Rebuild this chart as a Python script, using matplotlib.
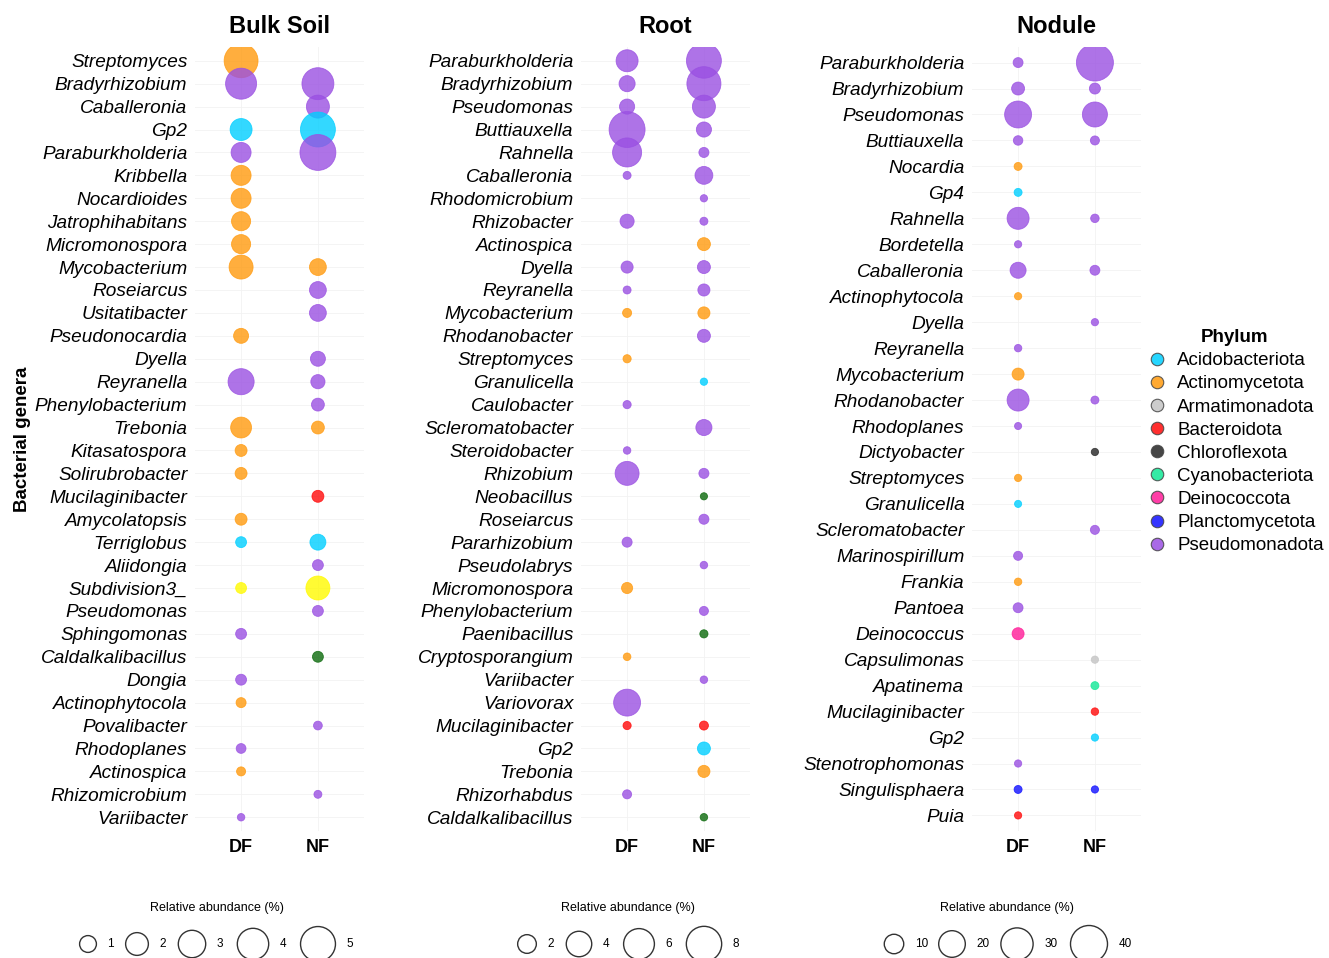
import numpy as np
import matplotlib.pyplot as plt
from matplotlib.lines import Line2D

plt.rcParams['font.family'] = ['Liberation Sans', 'DejaVu Sans']

# %% phylum colours
phylum_names = {
    'Aci': 'Acidobacteriota', 'Act': 'Actinomycetota', 'Arm': 'Armatimonadota',
    'Bac': 'Bacteroidota', 'Chl': 'Chloroflexota', 'Cya': 'Cyanobacteriota',
    'Dei': 'Deinococcota', 'Pla': 'Planctomycetota', 'Pse': 'Pseudomonadota',
    'Ver': 'Verrucomicrobiota', 'Bcl': 'Bacillota',
}
phylum_colors = {
    'Aci': '#00CFFF', 'Act': '#FF9A0E', 'Arm': '#C4C4C4', 'Bac': '#FF0A0A',
    'Chl': '#262626', 'Cya': '#10E896', 'Dei': '#FF1C98', 'Pla': '#1010FF',
    'Pse': '#9A50E2', 'Ver': '#FFFA00', 'Bcl': '#0C6A0C',
}
legend_phyla = ['Aci', 'Act', 'Arm', 'Bac', 'Chl', 'Cya', 'Dei', 'Pla', 'Pse']

nan = np.nan

# %% Bulk soil
bulk_genera = ['Streptomyces', 'Bradyrhizobium', 'Caballeronia', 'Gp2', 'Paraburkholderia',
               'Kribbella', 'Nocardioides', 'Jatrophihabitans', 'Micromonospora', 'Mycobacterium',
               'Roseiarcus', 'Usitatibacter', 'Pseudonocardia', 'Dyella', 'Reyranella',
               'Phenylobacterium', 'Trebonia', 'Kitasatospora', 'Solirubrobacter', 'Mucilaginibacter',
               'Amycolatopsis', 'Terriglobus', 'Aliidongia', 'Subdivision3_', 'Pseudomonas',
               'Sphingomonas', 'Caldalkalibacillus', 'Dongia', 'Actinophytocola', 'Povalibacter',
               'Rhodoplanes', 'Actinospica', 'Rhizomicrobium', 'Variibacter']
bulk_phylum = ['Act', 'Pse', 'Pse', 'Aci', 'Pse', 'Act', 'Act', 'Act', 'Act', 'Act',
               'Pse', 'Pse', 'Act', 'Pse', 'Pse', 'Pse', 'Act', 'Act', 'Act', 'Bac',
               'Act', 'Aci', 'Pse', 'Ver', 'Pse', 'Pse', 'Bcl', 'Pse', 'Act', 'Pse',
               'Pse', 'Act', 'Pse', 'Pse']
bulk_df = [4.7, 3.9, nan, 1.85, 1.5, 1.5, 1.5, 1.35, 1.35, 2.25,
           nan, nan, 0.75, nan, 2.7, nan, 1.65, 0.4, 0.4, nan,
           0.4, 0.3, nan, 0.3, nan, 0.3, nan, 0.3, 0.22, nan,
           0.2, 0.14, nan, 0.03]
bulk_nf = [nan, 4.15, 2.05, 5.0, 5.3, nan, nan, nan, nan, 1.0,
           1.0, 1.0, nan, 0.75, 0.65, 0.5, 0.5, nan, nan, 0.4,
           nan, 0.88, 0.3, 2.25, 0.3, nan, 0.3, nan, nan, 0.12,
           nan, nan, 0.06, nan]

# %% Root
root_genera = ['Paraburkholderia', 'Bradyrhizobium', 'Pseudomonas', 'Buttiauxella', 'Rahnella',
               'Caballeronia', 'Rhodomicrobium', 'Rhizobacter', 'Actinospica', 'Dyella',
               'Reyranella', 'Mycobacterium', 'Rhodanobacter', 'Streptomyces', 'Granulicella',
               'Caulobacter', 'Scleromatobacter', 'Steroidobacter', 'Rhizobium', 'Neobacillus',
               'Roseiarcus', 'Pararhizobium', 'Pseudolabrys', 'Micromonospora', 'Phenylobacterium',
               'Paenibacillus', 'Cryptosporangium', 'Variibacter', 'Variovorax', 'Mucilaginibacter',
               'Gp2', 'Trebonia', 'Rhizorhabdus', 'Caldalkalibacillus']
root_phylum = ['Pse', 'Pse', 'Pse', 'Pse', 'Pse', 'Pse', 'Pse', 'Pse', 'Act', 'Pse',
               'Pse', 'Act', 'Pse', 'Act', 'Aci', 'Pse', 'Pse', 'Pse', 'Pse', 'Bcl',
               'Pse', 'Pse', 'Pse', 'Act', 'Pse', 'Bcl', 'Act', 'Pse', 'Pse', 'Bac',
               'Aci', 'Act', 'Pse', 'Bcl']
root_df = [2.9, 1.4, 1.2, 8.3, 5.3, 0.1, nan, 1.0, nan, 0.65,
           0.1, 0.22, nan, 0.12, nan, 0.12, nan, 0.05, 3.5, nan,
           nan, 0.35, nan, 0.5, nan, nan, 0.06, nan, 4.5, 0.12,
           nan, nan, 0.22, nan]
root_nf = [7.8, 7.4, 3.2, 1.2, 0.35, 1.8, 0.03, 0.1, 0.8, 0.8,
           0.65, 0.65, 0.8, nan, 0.03, nan, 1.4, nan, 0.35, 0.02,
           0.35, nan, 0.05, nan, 0.22, 0.12, nan, 0.05, nan, 0.22,
           0.8, 0.65, nan, 0.05]

# %% Nodule
nod_genera = ['Paraburkholderia', 'Bradyrhizobium', 'Pseudomonas', 'Buttiauxella', 'Nocardia',
              'Gp4', 'Rahnella', 'Bordetella', 'Caballeronia', 'Actinophytocola',
              'Dyella', 'Reyranella', 'Mycobacterium', 'Rhodanobacter', 'Rhodoplanes',
              'Dictyobacter', 'Streptomyces', 'Granulicella', 'Scleromatobacter', 'Marinospirillum',
              'Frankia', 'Pantoea', 'Deinococcus', 'Capsulimonas', 'Apatinema',
              'Mucilaginibacter', 'Gp2', 'Stenotrophomonas', 'Singulisphaera', 'Puia']
nod_phylum = ['Pse', 'Pse', 'Pse', 'Pse', 'Act', 'Aci', 'Pse', 'Pse', 'Pse', 'Act',
              'Pse', 'Pse', 'Act', 'Pse', 'Pse', 'Chl', 'Act', 'Aci', 'Pse', 'Pse',
              'Act', 'Pse', 'Dei', 'Arm', 'Cya', 'Bac', 'Aci', 'Pse', 'Pla', 'Bac']
nod_df = [1.5, 3.6, 20.5, 1.25, 0.45, 0.45, 13.2, 0.12, 6.3, 0.12,
          nan, 0.2, 2.9, 13.2, 0.06, nan, 0.12, 0.06, nan, 1.0,
          0.2, 1.5, 2.9, nan, nan, nan, nan, 0.12, 0.45, 0.12]
nod_nf = [40.0, 2.2, 17.5, 1.0, nan, nan, 0.7, nan, 1.5, nan,
          0.12, nan, nan, 0.45, nan, 0.12, nan, nan, 1.0, nan,
          nan, nan, nan, 0.12, 0.45, 0.2, 0.12, nan, 0.12, nan]

# size scale per panel: diameter(px)^2 = 49 + k * abundance
bulk_k, root_k, nod_k = 234.0, 150.0, 33.0
bulk_breaks = [1, 2, 3, 4, 5]
root_breaks = [2, 4, 6, 8]
nod_breaks = [10, 20, 30, 40]

W, H = 1329, 958
fig = plt.figure(figsize=(W / 100, H / 100), dpi=100)


def px_axes(l, t, r, b):
    return fig.add_axes([l / W, 1 - b / H, (r - l) / W, (b - t) / H])


def marker_area(v, k):
    d = np.sqrt(49 + k * np.asarray(v, dtype=float))
    return (d * 0.72) ** 2


def draw_panel(ax, title, genera, phyla, df, nf, k):
    n = len(genera)
    y = np.arange(n)
    ax.set_xlim(-0.6, 1.6)
    ax.set_ylim(n - 1 + 0.6, -0.6)
    for yy in y:
        ax.axhline(yy, color='#f2f2f2', lw=0.6, zorder=0)
    for xx in (0, 1):
        ax.axvline(xx, color='#f2f2f2', lw=0.6, zorder=0)
    cols = [phylum_colors[p] for p in phyla]
    for xi, vals in enumerate((df, nf)):
        vals = np.asarray(vals, dtype=float)
        m = ~np.isnan(vals)
        c = [cols[i] for i in np.where(m)[0]]
        ax.scatter(np.full(m.sum(), xi), y[m], s=marker_area(vals[m], k),
                   c=c, alpha=0.8, edgecolors=c, linewidths=0.6, zorder=3)
    ax.set_xticks([0, 1])
    ax.set_xticklabels(['DF', 'NF'], fontsize=13, fontweight='bold')
    ax.set_yticks(y)
    ax.set_yticklabels(genera, fontsize=13.7, style='italic')
    ax.tick_params(length=0, pad=5.5)
    for s in ax.spines.values():
        s.set_visible(False)
    ax.set_title(title, fontsize=17, fontweight='bold', pad=10)


ax1 = px_axes(195, 47, 364, 831)
ax2 = px_axes(581, 47, 750, 831)
ax3 = px_axes(972, 47, 1141, 831)
draw_panel(ax1, 'Bulk Soil', bulk_genera, bulk_phylum, bulk_df, bulk_nf, bulk_k)
draw_panel(ax2, 'Root', root_genera, root_phylum, root_df, root_nf, root_k)
draw_panel(ax3, 'Nodule', nod_genera, nod_phylum, nod_df, nod_nf, nod_k)
ax1.set_ylabel('Bacterial genera', fontsize=13.5, fontweight='bold', labelpad=3)

# overlay in pixel coordinates for the legends
ov = fig.add_axes([0, 0, 1, 1])
ov.set_xlim(0, W)
ov.set_ylim(H, 0)
ov.axis('off')

# size legends under each panel
size_legends = [
    (217, [88, 137, 192, 253, 318], bulk_breaks, bulk_k),
    (628, [527, 579, 639, 704], root_breaks, root_k),
    (1007, [894, 952, 1017, 1089], nod_breaks, nod_k),
]
for cx, xs, breaks, k in size_legends:
    ov.text(cx, 908, 'Relative abundance (%)', fontsize=9, ha='center', va='center')
    for x, b in zip(xs, breaks):
        ov.scatter([x], [944], s=marker_area(b, k), facecolors='none',
                   edgecolors='#333333', linewidths=1.0, clip_on=False)
        d = np.sqrt(49 + k * b)
        ov.text(x + d / 2 + 11, 944, str(b), fontsize=8.5, ha='left', va='center')

# phylum legend
handles = [Line2D([], [], ls='none', marker='o', markersize=9,
                  markerfacecolor=phylum_colors[p], markeredgecolor='#444444',
                  markeredgewidth=0.8, alpha=0.85, label=phylum_names[p])
           for p in legend_phyla]
leg = fig.legend(handles=handles, title='Phylum', loc='upper left',
                 bbox_to_anchor=(1133 / W, 1 - 316 / H), frameon=False,
                 fontsize=13.5, title_fontproperties={'weight': 'bold', 'size': 13.5},
                 handletextpad=0.45, labelspacing=0.32, borderpad=0.2, handlelength=1.2)

fig.savefig('out.png', dpi=100)
